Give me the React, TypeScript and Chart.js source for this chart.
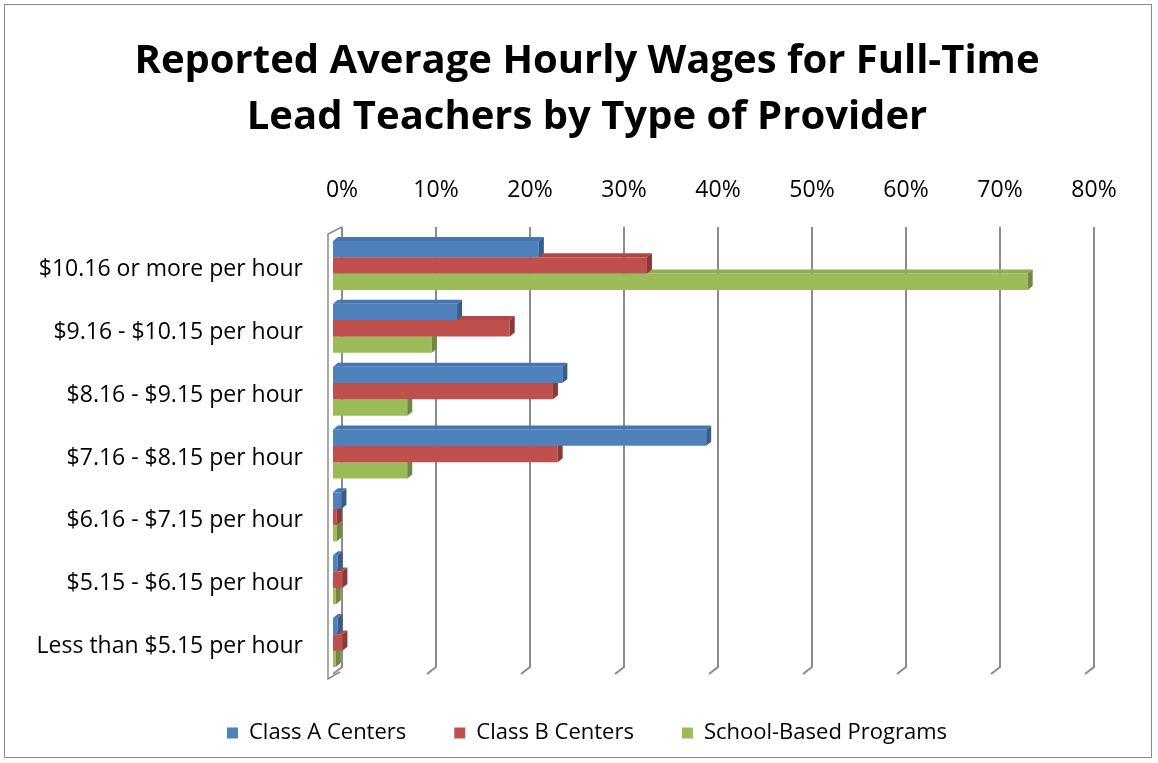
import React, { useEffect, useRef } from 'react';
import { Chart, registerables } from 'chart.js';

Chart.register(...registerables);

const categories = [
  '$10.16 or more per hour',
  '$9.16 - $10.15 per hour',
  '$8.16 - $9.15 per hour',
  '$7.16 - $8.15 per hour',
  '$6.16 - $7.15 per hour',
  '$5.15 - $6.15 per hour',
  'Less than $5.15 per hour',
];
const seriesNames = ['Class A Centers', 'Class B Centers', 'School-Based Programs'];
const classA = [21.9, 13.2, 24.4, 39.7, 0.9, 0.5, 0.5];
const classB = [33.4, 18.8, 23.4, 23.9, 0.4, 1.0, 1.0];
const schoolBased = [73.9, 10.5, 7.9, 7.9, 0.4, 0.3, 0.3];
const tickValues = [0, 10, 20, 30, 40, 50, 60, 70, 80];
const titleLines = ['Reported Average Hourly Wages for Full-Time', 'Lead Teachers by Type of Provider'];

const frontColors = ['#4F81BD', '#C0504D', '#9BBB59'];
const topColors = ['#4676B0', '#B04845', '#8FAE50'];
const sideColors = ['#385D8A', '#8C3836', '#71893F'];

const FONT = '"Open Sans", Lato, sans-serif';
const BAR_DX = 5;
const BAR_DY = 4;
const WALL_DX = 9;
const WALL_DY = 7;

const bar3d = {
  id: 'bar3d',
  afterDatasetDraw(chart: any, args: any) {
    const ctx = chart.ctx;
    const i = args.index;
    ctx.save();
    args.meta.data.forEach((el: any) => {
      const p = el.getProps(['x', 'y', 'base', 'height'], true);
      const t = p.y - p.height / 2;
      const b = p.y + p.height / 2;
      ctx.fillStyle = topColors[i];
      ctx.beginPath();
      ctx.moveTo(p.base, t);
      ctx.lineTo(p.base + BAR_DX, t - BAR_DY);
      ctx.lineTo(p.x + BAR_DX, t - BAR_DY);
      ctx.lineTo(p.x, t);
      ctx.closePath();
      ctx.fill();
      ctx.fillStyle = sideColors[i];
      ctx.beginPath();
      ctx.moveTo(p.x, t);
      ctx.lineTo(p.x + BAR_DX, t - BAR_DY);
      ctx.lineTo(p.x + BAR_DX, b - BAR_DY);
      ctx.lineTo(p.x, b);
      ctx.closePath();
      ctx.fill();
    });
    ctx.restore();
  },
};

const wall3d = {
  id: 'wall3d',
  beforeDatasetsDraw(chart: any) {
    const ctx = chart.ctx;
    const xs = chart.scales.x;
    const { top, bottom, left } = chart.chartArea;
    ctx.save();
    ctx.strokeStyle = '#8C8C8C';
    ctx.lineWidth = 2;
    tickValues.forEach((v) => {
      const xf = xs.getPixelForValue(v);
      const xb = xf + WALL_DX;
      ctx.beginPath();
      ctx.moveTo(xb, top - WALL_DY);
      ctx.lineTo(xb, bottom - WALL_DY);
      ctx.lineTo(xf, bottom);
      ctx.stroke();
    });
    // side wall
    const lw = left - 5;
    ctx.lineWidth = 1.5;
    ctx.beginPath();
    ctx.moveTo(left + WALL_DX, top - WALL_DY);
    ctx.lineTo(lw, top);
    ctx.lineTo(lw, bottom + 5);
    ctx.lineTo(left + WALL_DX - 2, bottom - WALL_DY + 5);
    ctx.stroke();
    ctx.restore();
  },
};

export default function App() {
  const ref = useRef<HTMLCanvasElement>(null);
  useEffect(() => {
    if (!ref.current) return;
    const chart = new Chart(ref.current, {
      type: 'bar',
      data: {
        labels: categories,
        datasets: [
          { label: seriesNames[0], data: classA, backgroundColor: frontColors[0], xAxisID: 'x', yAxisID: 'y' },
          { label: seriesNames[1], data: classB, backgroundColor: frontColors[1], xAxisID: 'x', yAxisID: 'y' },
          { label: seriesNames[2], data: schoolBased, backgroundColor: frontColors[2], xAxisID: 'x', yAxisID: 'y' },
        ],
      },
      options: {
        indexAxis: 'y',
        responsive: false,
        animation: false,
        datasets: { bar: { categoryPercentage: 0.78, barPercentage: 1 } },
        layout: { padding: { left: 16, right: 0, top: 0, bottom: 9 } },
        scales: {
          x: {
            position: 'top',
            min: 0,
            max: 80,
            grid: { display: false, drawTicks: false },
            border: { display: false },
            ticks: {
              stepSize: 10,
              callback: (v: any) => v + '%',
              labelOffset: WALL_DX,
              padding: 30,
              color: '#000',
              font: { family: FONT, size: 23 },
            },
            afterFit: (s: any) => { s.height = 88; },
          },
          y: {
            grid: { display: false },
            border: { display: false },
            ticks: {
              padding: 22,
              labelOffset: 4,
              color: '#000',
              font: { family: FONT, size: 23 },
            },
            afterFit: (s: any) => { s.width = 317; },
          },
          padRight: {
            type: 'linear',
            axis: 'y',
            position: 'right',
            display: true,
            grid: { display: false, drawTicks: false },
            border: { display: false },
            ticks: { display: false },
            afterFit: (s: any) => { s.width = 73; },
          },
        },
        plugins: {
          title: {
            display: true,
            text: titleLines,
            color: '#000',
            font: { family: FONT, size: 40, weight: 'bold', lineHeight: '56px' },
            padding: { top: 34, bottom: 0 },
          },
          legend: {
            position: 'bottom',
            labels: {
              color: '#000',
              font: { family: FONT, size: 22 },
              boxWidth: 11,
              boxHeight: 11,
              padding: 48,
            },
          },
          tooltip: { enabled: false },
        },
      },
      plugins: [wall3d, bar3d],
    } as any);
    return () => chart.destroy();
  }, []);
  return (
    <div style={{ position: 'absolute', left: 0, top: 0, width: 1158, height: 763, background: '#fff' }}>
      <canvas ref={ref} width={1158} height={763} style={{ display: 'block' }} />
      <div style={{ position: 'absolute', left: 4, top: 4, width: 1146, height: 752, border: '1px solid #8A8A8A', pointerEvents: 'none' }} />
    </div>
  );
}
